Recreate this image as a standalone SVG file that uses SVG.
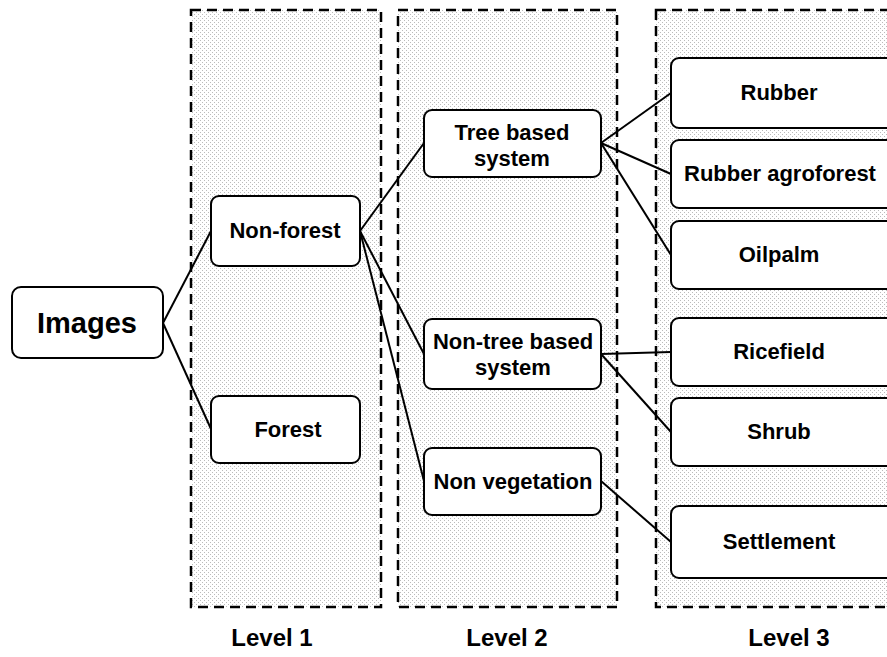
<svg xmlns="http://www.w3.org/2000/svg" width="887" height="657" viewBox="0 0 887 657">
<style>
.panel{fill:url(#dots);stroke:#000;stroke-width:2.5;stroke-dasharray:10 6}
.box{fill:#fff;stroke:#000;stroke-width:2}
.t{font-family:"Liberation Sans",Arial,sans-serif;font-weight:bold;font-size:22px;text-anchor:middle;fill:#000}
.big{font-size:29px}
.lv{font-size:24px}
.conn line{stroke:#000;stroke-width:2}
</style>
<defs>
<pattern id="dots" width="4" height="4" patternUnits="userSpaceOnUse">
<rect width="4" height="4" fill="#fff"/>
<rect x="0" y="0" width="1" height="1" fill="#bbb"/>
<rect x="2" y="2" width="1" height="1" fill="#bbb"/>
</pattern>
</defs>
<rect width="887" height="657" fill="#fff"/>
<g id="panel1"><rect class="panel" x="191" y="10" width="190" height="597"/></g>
<g id="panel2"><rect class="panel" x="398" y="10" width="219" height="597"/></g>
<g id="panel3"><rect class="panel" x="656" y="10" width="240" height="597"/></g>
<g class="conn" id="connectors">
<line x1="163" y1="323" x2="211" y2="231"/>
<line x1="163" y1="323" x2="211" y2="429"/>
<line x1="360" y1="231" x2="424" y2="143"/>
<line x1="360" y1="231" x2="424" y2="354"/>
<line x1="360" y1="231" x2="424" y2="481"/>
<line x1="601" y1="143" x2="671" y2="93"/>
<line x1="601" y1="143" x2="671" y2="174"/>
<line x1="601" y1="143" x2="671" y2="255"/>
<line x1="601" y1="354" x2="671" y2="352"/>
<line x1="601" y1="354" x2="671" y2="432"/>
<line x1="601" y1="481" x2="671" y2="542"/>
</g>
<g id="images"><rect class="box" x="12" y="287" width="151" height="71" rx="9"/><text class="t big" x="87" y="333">Images</text></g>
<g id="nonforest"><rect class="box" x="211" y="196" width="149" height="70" rx="8"/><text class="t" x="285" y="238">Non-forest</text></g>
<g id="forest"><rect class="box" x="211" y="396" width="149" height="67" rx="8"/><text class="t" x="288" y="437">Forest</text></g>
<g id="treebased"><rect class="box" x="424" y="110" width="177" height="67" rx="8"/><text class="t" x="512" y="140">Tree based</text><text class="t" x="512" y="166">system</text></g>
<g id="nontree"><rect class="box" x="424" y="319" width="177" height="70" rx="8"/><text class="t" x="513" y="349">Non-tree based</text><text class="t" x="513" y="375">system</text></g>
<g id="nonveg"><rect class="box" x="424" y="448" width="177" height="67" rx="8"/><text class="t" x="513" y="489">Non vegetation</text></g>
<g id="rubber"><rect class="box" x="671" y="58" width="226" height="70" rx="8"/><text class="t" x="779" y="100">Rubber</text></g>
<g id="rubberagro"><rect class="box" x="671" y="140" width="226" height="68" rx="8"/><text class="t" x="780" y="181">Rubber agroforest</text></g>
<g id="oilpalm"><rect class="box" x="671" y="221" width="226" height="68" rx="8"/><text class="t" x="779" y="262">Oilpalm</text></g>
<g id="ricefield"><rect class="box" x="671" y="318" width="226" height="68" rx="8"/><text class="t" x="779" y="359">Ricefield</text></g>
<g id="shrub"><rect class="box" x="671" y="398" width="226" height="68" rx="8"/><text class="t" x="779" y="439">Shrub</text></g>
<g id="settlement"><rect class="box" x="671" y="506" width="226" height="72" rx="8"/><text class="t" x="779" y="549">Settlement</text></g>
<text class="t lv" x="272" y="646">Level 1</text>
<text class="t lv" x="507" y="646">Level 2</text>
<text class="t lv" x="789" y="646">Level 3</text>
</svg>
